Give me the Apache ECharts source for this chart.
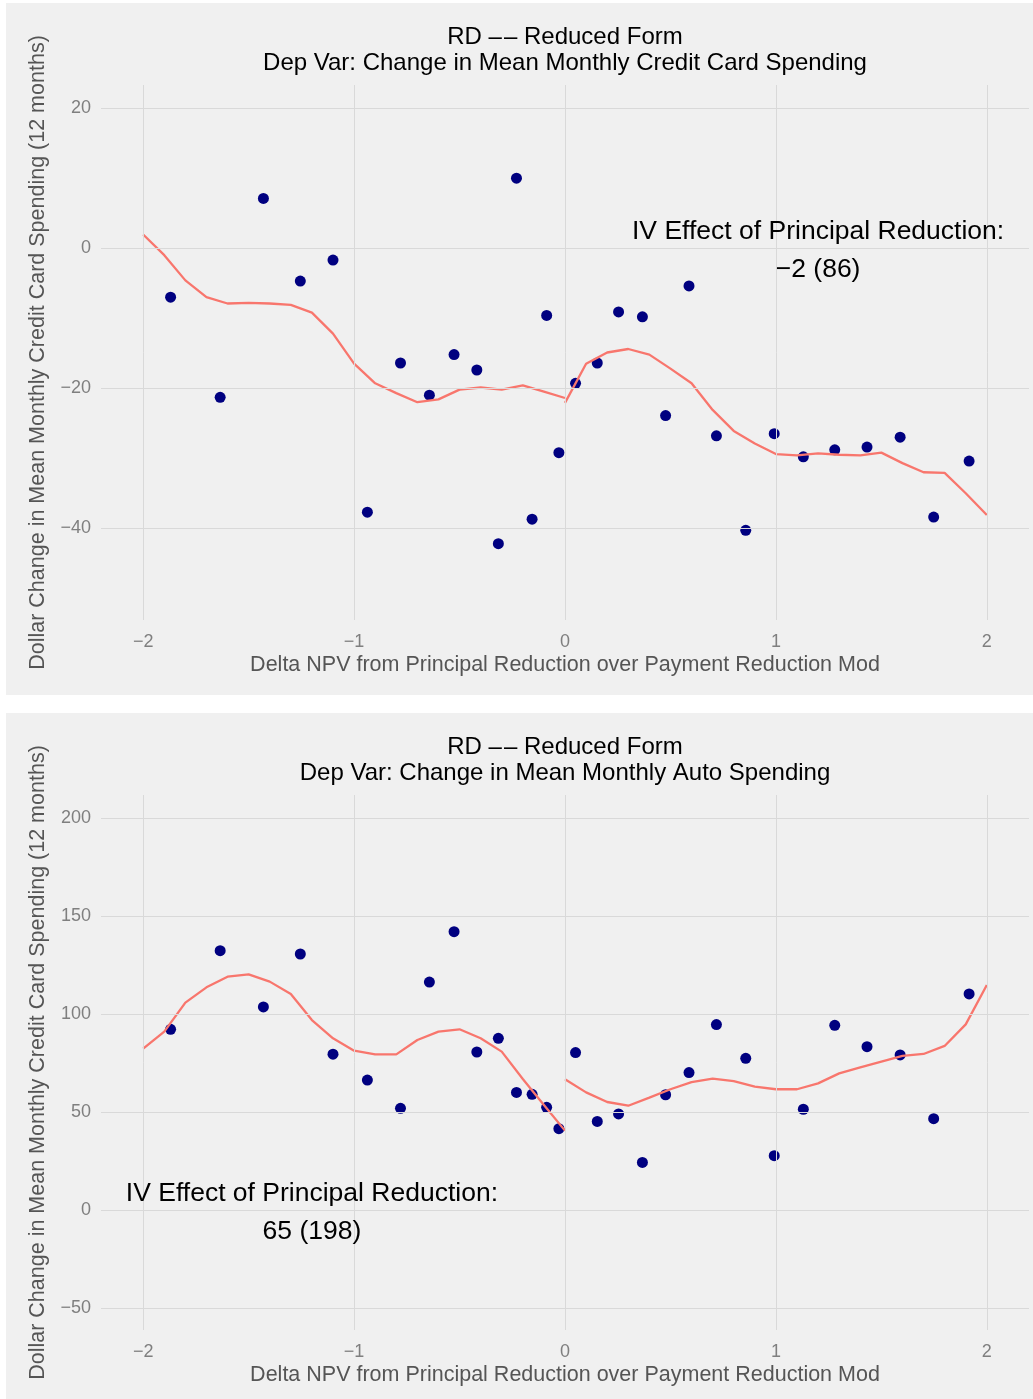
<!DOCTYPE html>
<html>
<head>
<meta charset="utf-8">
<script src="https://cdn.jsdelivr.net/npm/echarts@6/dist/echarts.min.js"></script>
<style>
html,body{margin:0;padding:0;background:#ffffff;}
#chart{width:1033px;height:1399px;}
</style>
</head>
<body>
<div id="chart"></div>
<script>
// ---- data ----
const binX = [-1.87,-1.635,-1.43,-1.255,-1.10,-0.937,-0.78,-0.643,-0.526,-0.418,-0.316,-0.23,-0.156,-0.087,-0.029,
              0.05,0.153,0.254,0.367,0.477,0.588,0.718,0.857,0.992,1.13,1.279,1.432,1.589,1.748,1.916];
const ccPoints = [-7.0,-21.3,7.1,-4.7,-1.7,-37.7,-16.4,-21.0,-15.2,-17.4,-42.2,10.0,-38.7,-9.6,-29.2,
                  -19.3,-16.4,-9.1,-9.8,-23.9,-5.4,-26.8,-40.3,-26.5,-29.8,-28.8,-28.4,-27.0,-38.4,-30.4];
const autoPoints = [92.2,132.3,103.6,130.6,79.5,66.3,51.9,116.3,142.0,80.6,87.6,60.0,59.0,52.4,41.5,
                    80.3,45.2,49.0,24.3,58.8,70.1,94.6,77.4,27.7,51.4,94.2,83.3,79.1,46.6,110.2];

const fitXLeft = [-2,-1.9,-1.8,-1.7,-1.6,-1.5,-1.4,-1.3,-1.2,-1.1,-1,-0.9,-0.8,-0.7,-0.6,-0.5,-0.4,-0.3,-0.2,-0.1,0];
const fitXRight = [0,0.1,0.2,0.3,0.4,0.5,0.6,0.7,0.8,0.9,1,1.1,1.2,1.3,1.4,1.5,1.6,1.7,1.8,1.9,2];
const ccFitLeft = [1.95,-1.0,-4.6,-7.0,-7.9,-7.8,-7.9,-8.1,-9.2,-12.2,-16.5,-19.3,-20.7,-22.0,-21.6,-20.2,-19.9,-20.2,-19.6,-20.5,-21.4];
const ccFitRight = [-22.1,-16.5,-14.9,-14.4,-15.2,-17.2,-19.3,-23.1,-26.1,-27.9,-29.4,-29.6,-29.3,-29.5,-29.6,-29.2,-30.7,-32.0,-32.1,-35.0,-38.1];
const autoFitLeft = [82.3,91.0,105.8,113.6,119.0,120.2,116.5,110.2,96.9,87.6,81.3,79.4,79.4,86.7,91.0,92.2,87.6,80.8,66.8,53.6,40.5];
const autoFitRight = [66.7,60.0,55.1,53.2,57.3,61.6,65.2,67.0,65.7,62.9,61.6,61.6,64.6,69.7,72.8,75.7,78.6,79.6,83.7,94.7,114.8];

const xTicks = [-2,-1,0,1,2];
const ccYTicks = [-40,-20,0,20];
const autoYTicks = [-50,0,50,100,150,200];

const titleTop = 'RD \u2013\u200a\u2013 Reduced Form\nDep Var: Change in Mean Monthly Credit Card Spending';
const titleBottom = 'RD \u2013\u200a\u2013 Reduced Form\nDep Var: Change in Mean Monthly Auto Spending';
const xName = 'Delta NPV from Principal Reduction over Payment Reduction Mod';
const yName = 'Dollar Change in Mean Monthly Credit Card Spending (12 months)';
const annotTopPos = [1.2, 0];
const annotTopText = 'IV Effect of Principal Reduction:\n\u22122 (86)';
const annotBottomPos = [-1.2, 0];
const annotBottomText = 'IV Effect of Principal Reduction:\n65 (198)';

// ---- style ----
const FONT = 'Liberation Sans, Arial, Helvetica, sans-serif';
const GRIDC = '#d9d9d9';
const fmt = v => String(v).replace('-', '\u2212');
const zip = (xs, ys) => xs.map((x, i) => [x, ys[i]]);

function xAxisCfg(idx) {
  return {
    gridIndex: idx, type: 'value', min: -2.2, max: 2.2,
    axisLine: {show: false}, axisTick: {show: false}, splitLine: {show: false},
    axisLabel: {customValues: xTicks, formatter: fmt, color: '#7f7f7f', fontSize: 18, fontFamily: FONT, margin: 13},
    name: xName, nameLocation: 'middle', nameGap: 34,
    nameTextStyle: {color: '#555555', fontSize: 21.5, fontFamily: FONT}
  };
}
function yAxisCfg(idx, mn, mx, ticks) {
  return {
    gridIndex: idx, type: 'value', min: mn, max: mx,
    axisLine: {show: false}, axisTick: {show: false}, splitLine: {show: false},
    axisLabel: {customValues: ticks, formatter: fmt, color: '#7f7f7f', fontSize: 18, fontFamily: FONT, margin: 10},
    name: yName, nameLocation: 'middle', nameGap: 43,
    nameTextStyle: {color: '#555555', fontSize: 21.5, fontFamily: FONT}
  };
}
function gridSeries(idx, yt) {
  return {
    type: 'line', xAxisIndex: idx, yAxisIndex: idx, data: [], silent: true, z: 1,
    markLine: {
      silent: true, symbol: ['none', 'none'], label: {show: false}, animation: false,
      lineStyle: {color: GRIDC, width: 1, type: 'solid'},
      emphasis: {disabled: true},
      data: yt.map(v => ({yAxis: v})).concat(xTicks.map(v => ({xAxis: v})))
    }
  };
}
function pointSeries(idx, ys) {
  return {type: 'scatter', xAxisIndex: idx, yAxisIndex: idx, data: zip(binX, ys), symbolSize: 11,
          itemStyle: {color: '#000080', opacity: 1}, z: 3, silent: true};
}
function fitSeries(idx, xs, ys) {
  return {type: 'line', xAxisIndex: idx, yAxisIndex: idx, data: zip(xs, ys), showSymbol: false, symbol: 'none',
          lineStyle: {color: '#F8766D', width: 2.3}, itemStyle: {color: '#F8766D'}, z: 4, silent: true};
}
function annotSeries(idx, pos, text) {
  return {type: 'scatter', xAxisIndex: idx, yAxisIndex: idx, data: [pos], symbolSize: 0, silent: true, z: 5,
          itemStyle: {color: 'rgba(0,0,0,0)', opacity: 1},
          label: {show: true, position: 'inside', offset: [0, 3], formatter: text, color: '#000000', opacity: 1,
                  fontSize: 26.5, lineHeight: 38, fontFamily: FONT, align: 'center', verticalAlign: 'middle',
                  textBorderWidth: 0}};
}

const chart = echarts.init(document.getElementById('chart'), null, {renderer: 'canvas'});
chart.setOption({
  animation: false,
  backgroundColor: '#ffffff',
  graphic: [
    {type: 'rect', z: -10, shape: {x: 6, y: 3, width: 1027, height: 692}, style: {fill: '#f0f0f0'}},
    {type: 'rect', z: -10, shape: {x: 6, y: 713, width: 1027, height: 686}, style: {fill: '#f0f0f0'}}
  ],
  title: [
    {text: titleTop, left: 565, top: 24, textAlign: 'center', padding: 0,
     textStyle: {fontSize: 24, fontWeight: 'normal', color: '#000000', lineHeight: 26.5, fontFamily: FONT}},
    {text: titleBottom, left: 565, top: 734, textAlign: 'center', padding: 0,
     textStyle: {fontSize: 24, fontWeight: 'normal', color: '#000000', lineHeight: 26.5, fontFamily: FONT}}
  ],
  grid: [
    {left: 101, top: 85, width: 928, height: 535},
    {left: 101, top: 795, width: 928, height: 535}
  ],
  xAxis: [xAxisCfg(0), xAxisCfg(1)],
  yAxis: [yAxisCfg(0, -53.1, 23.3, ccYTicks), yAxisCfg(1, -61.2, 211.7, autoYTicks)],
  series: [
    gridSeries(0, ccYTicks),
    pointSeries(0, ccPoints),
    fitSeries(0, fitXLeft, ccFitLeft),
    fitSeries(0, fitXRight, ccFitRight),
    annotSeries(0, annotTopPos, annotTopText),
    gridSeries(1, autoYTicks),
    pointSeries(1, autoPoints),
    fitSeries(1, fitXLeft, autoFitLeft),
    fitSeries(1, fitXRight, autoFitRight),
    annotSeries(1, annotBottomPos, annotBottomText)
  ]
});
</script>
</body>
</html>
